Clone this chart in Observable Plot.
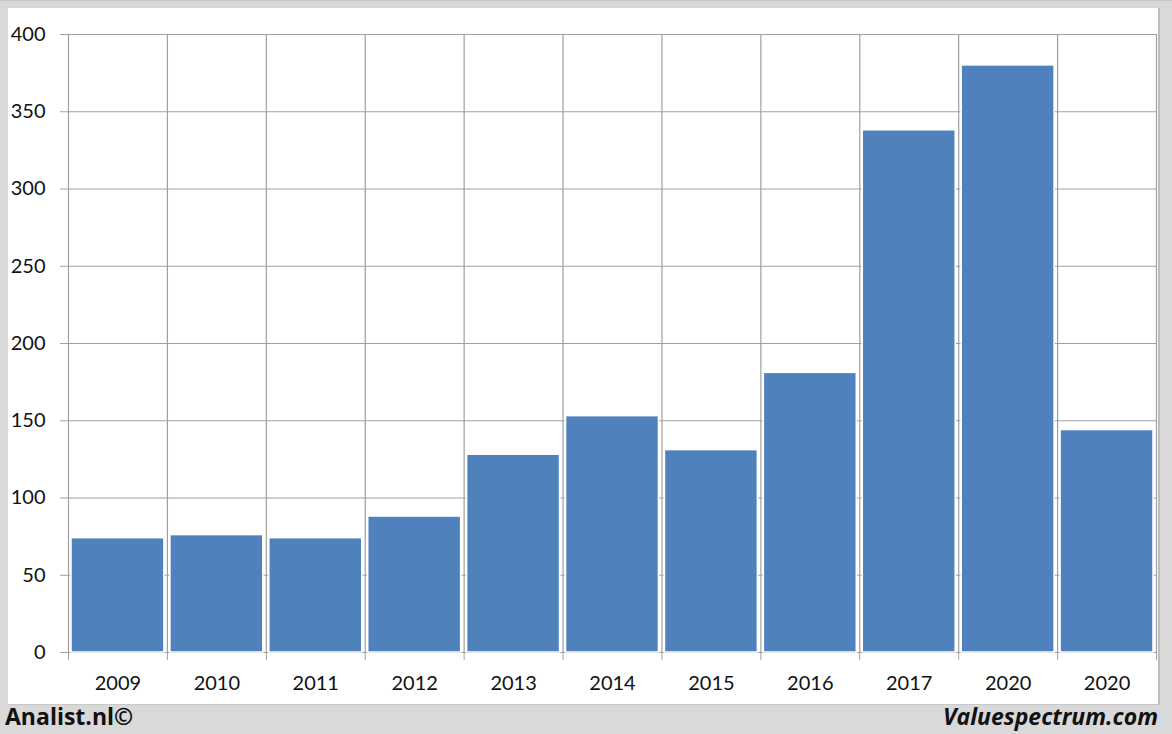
<!DOCTYPE html>
<html>
<head>
<meta charset="utf-8">
<script src="https://cdn.jsdelivr.net/npm/d3@7"></script>
<script src="https://cdn.jsdelivr.net/npm/@observablehq/plot@0.6"></script>
<style>
  html, body { margin: 0; padding: 0; }
  body { width: 1172px; height: 734px; overflow: hidden; }
  #frame { position: relative; width: 1172px; height: 734px; background: #d9d9d9; border-top: 1px solid #c8c8c8; box-sizing: border-box; }
  #panel { position: absolute; left: 8px; top: 7px; width: 1150px; height: 696px; background: #fff; border-right: 2px solid #bdbdbd; border-bottom: 1px solid #c8c8c8; }
  #chart { position: absolute; left: 0; top: -1px; }
  .foot { position: absolute; font-family: "Open Sans", Lato, sans-serif; font-weight: 700; font-size: 23px; line-height: 30px; color: #111; top: 700px; }
  #left { left: 5px; }
  #right { right: 14px; font-style: italic; }
</style>
</head>
<body>
<div id="frame">
  <div id="panel"></div>
  <div id="chart"></div>
  <div class="foot" id="left">Analist.nl©</div>
  <div class="foot" id="right">Valuespectrum.com</div>
</div>
<script>
const years = ["2009", "2010", "2011", "2012", "2013", "2014", "2015", "2016", "2017", "2020", "2020"];
const values = [74, 76, 74, 88, 128, 153, 131, 181, 338, 380, 144];
const yTicks = [0, 50, 100, 150, 200, 250, 300, 350, 400];

const data = years.map((year, i) => ({i, year, value: values[i]}));
const bounds = d3.range(years.length + 1);
const centers = years.map((_, i) => i + 0.5);

const chart = Plot.plot({
  width: 1172,
  height: 705,
  marginLeft: 68,
  marginRight: 16,
  marginTop: 34,
  marginBottom: 53,
  style: {fontFamily: "Lato, 'Open Sans', sans-serif", fontSize: "20px", color: "#111", background: "transparent", overflow: "visible"},
  x: {domain: [0, years.length], axis: null},
  y: {domain: [0, 400], axis: null},
  marks: [
    Plot.ruleY(yTicks, {x1: 0, x2: years.length, stroke: "#a0a0a0", strokeWidth: 1.2}),
    Plot.ruleX(bounds, {y1: 0, y2: 400, stroke: "#a0a0a0", strokeWidth: 1.2}),
    Plot.rectY(data, {x1: d => d.i, x2: d => d.i + 1, y: "value", fill: "#4f81bd", stroke: "#fff", strokeWidth: 1.5, insetLeft: 3, insetRight: 3}),
    Plot.axisY({ticks: yTicks, tickSize: 8, tickPadding: 15, stroke: "#a0a0a0", fontSize: 20, textAnchor: "end", label: null}),
    Plot.axisX({ticks: bounds, tickSize: 8, tickFormat: () => "", stroke: "#a0a0a0", label: null}),
    Plot.axisX({ticks: centers, tickSize: 0, tickPadding: 23, tickFormat: d => years[Math.floor(d)], fontSize: 20, label: null})
  ]
});
document.getElementById("chart").appendChild(chart);
</script>
</body>
</html>
